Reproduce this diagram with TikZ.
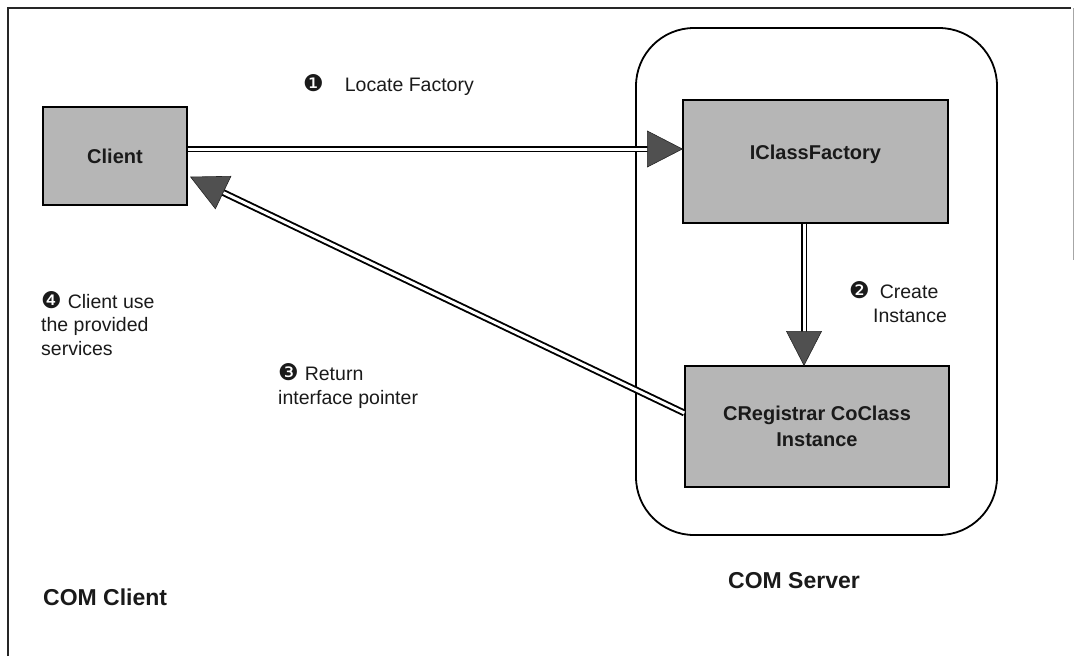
\documentclass[tikz,border=0pt]{standalone}
\usepackage{fontspec}
\setmainfont{Liberation Sans}
\newfontfamily\dingfont{DejaVu Sans}
\usetikzlibrary{calc}

\definecolor{boxgray}{HTML}{B6B6B6}
\definecolor{headgray}{HTML}{505050}
\definecolor{inktext}{HTML}{1A1A1A}

\newcommand{\stepmark}[1]{{\dingfont\fontsize{23}{24}\selectfont #1}}

\begin{document}
\begin{tikzpicture}[x=1pt,y=-1pt,
  compbox/.style={draw=black, line width=1.3pt, fill=boxgray, inner sep=0pt,
    text=inktext, align=center,
    font=\fontsize{20}{26}\selectfont\bfseries},
  serverframe/.style={draw=black, line width=1.8pt, rounded corners=58pt},
  pipe/.style={draw=black, line width=1.9pt, double=white, double distance=3pt},
  headtri/.style={fill=headgray, draw=black!85, line width=0.6pt},
  note/.style={inner sep=0pt, anchor=base west, align=left, text=inktext,
    font=\fontsize{19.5}{23.5}\selectfont},
  caption/.style={inner sep=0pt, anchor=base west, text=inktext,
    font=\fontsize{23}{26}\selectfont\bfseries},
  frameline/.style={draw=black!85, line width=1.6pt}
]
\useasboundingbox (0,0) rectangle (1078,656);

% page frame (open at the bottom)
\draw[frameline] (8,656) -- (8,8) -- (1071,8);
\draw[draw=black!35, line width=0.8pt] (1073,8) -- (1073,260);

% server boundary
\node[serverframe, minimum width=361pt, minimum height=507pt] (server) at (816.5,281.5) {};

% components
\node[compbox, minimum width=144pt, minimum height=98pt] (client) at (115,156) {Client};
\node[compbox, minimum width=265pt, minimum height=123pt] (factory) at (815.5,161.5) {\raisebox{2.5pt}[0pt][0pt]{IClassFactory}};
\node[compbox, minimum width=264pt, minimum height=121pt] (instance) at (817,426.5) {CRegistrar CoClass\\Instance};

% end points of the connectors
\coordinate (s1) at ($(client.east)+(0,-7)$);
\coordinate (t1) at (factory.west |- s1);
\coordinate (s2) at ($(factory.south)+(-11.5,0)$);
\coordinate (t2) at (instance.north -| s2);
\coordinate (s3) at ($(instance.west)+(0,-13.5)$);
\coordinate (t3) at ($(client.east)+(3,21)$);

% 1: locate factory
\draw[pipe] (s1) -- ($(t1)!33pt!(s1)$);
\coordinate (b1) at ($(t1)!35pt!(s1)$);
\path[headtri] (t1) -- ($(b1)!18pt!90:(t1)$) -- ($(b1)!18pt!-90:(t1)$) -- cycle;

% 2: create instance
\draw[pipe] (s2) -- ($(t2)!32pt!(s2)$);
\coordinate (b2) at ($(t2)!34pt!(s2)$);
\path[headtri] (t2) -- ($(b2)!17.5pt!90:(t2)$) -- ($(b2)!17.5pt!-90:(t2)$) -- cycle;

% 3: return interface pointer
\draw[pipe] (s3) -- ($(t3)!33pt!(s3)$);
\coordinate (b3) at ($(t3)!36pt!(s3)$);
\path[headtri] (t3) -- ($(b3)!18pt!90:(t3)$) -- ($(b3)!18pt!-90:(t3)$) -- cycle;

% step labels (base anchor = baseline of the last line)
\node[note] (n1) at (303,91) {\stepmark{❶}\hspace{21pt}Locate Factory};
\node[note] (n2) at (849,322) {\stepmark{❷}\hspace{10pt}Create\\\hspace*{24pt}Instance};
\node[note] (n3) at (278,404) {\stepmark{❸}\hspace{6pt}Return\\interface pointer};
\node[note] (n4) at (41,355) {\stepmark{❹}\hspace{6pt}Client use\\the provided\\services};

% side captions
\node[caption] (cc) at (43,605) {COM Client};
\node[caption] (cs) at (728,588) {COM Server};
\end{tikzpicture}
\end{document}
